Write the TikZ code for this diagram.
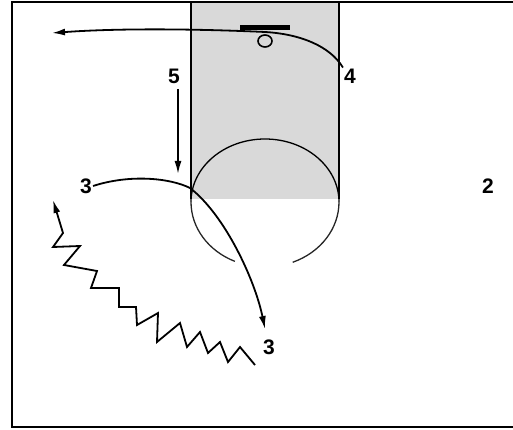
\documentclass[tikz,border=0pt]{standalone}
\usepackage{fontspec}
\setmainfont{Liberation Sans}
\usetikzlibrary{arrows.meta}
\begin{document}
\begin{tikzpicture}[x=1pt,y=-1pt,
  lbl/.style={font=\fontsize{21}{21}\selectfont\bfseries, inner sep=1pt},
  mv/.style={line width=1.8pt, -{Latex[length=13pt,width=7pt]}},
  court/.style={line width=1.8pt},
  circ/.style={line width=1.3pt}]
\useasboundingbox (0,0) rectangle (513,430);
% lane shading
\fill[gray!30] (191,2) rectangle (339,199);
% court border
\draw[court] (513,2) -- (12,2) -- (12,427) -- (513,427);
% lane lines
\draw[circ] (191,2) -- (191,199);
\draw[circ] (339,2) -- (339,199);
% free throw circle
\draw[circ] (191,202) arc[start angle=180, end angle=360, x radius=74, y radius=63];
\draw[circ, black!85] (339,202) arc[start angle=0, end angle=68, x radius=74, y radius=65];
\draw[circ, black!85] (191,202) arc[start angle=180, end angle=114, x radius=74, y radius=65];
% basket
\draw[line width=5pt] (240,28) -- (290,28);
\draw[line width=1.6pt] (265,41) ellipse[x radius=7, y radius=6];
% players
\node[lbl] (p4) at (350,76) {4};
\node[lbl] (p5) at (174,76) {5};
\node[lbl] (p3a) at (86,186) {3};
\node[lbl] (p3b) at (269,347) {3};
\node[lbl] (p2) at (488,186) {2};
% endpoints
\coordinate (e4) at (52,33);
\coordinate (s5) at (178,89);
\coordinate (e5) at (178,174);
\coordinate (e3) at (265,329);
\coordinate (z0) at (255,365);
\coordinate (ez) at (53,200);
% moves
\draw[mv] (p4.north west) .. controls (330,46) and (300,34) .. (265,32)
   .. controls (200,29) and (120,28) .. (e4);
\draw[mv] (s5) -- (e5);
\draw[mv] (p3a.east) .. controls (130,174) and (170,178) .. (190,188)
   .. controls (225,215) and (255,280) .. (e3);
\draw[line width=1.8pt, line join=miter, -{Latex[length=13pt,width=7pt]}]
  (z0) -- (240,347) -- (228,362) -- (220,342) -- (208,353) -- (200,332)
  -- (187,347) -- (180,323) -- (157,342) -- (158,313) -- (137,325)
  -- (136,307) -- (119,307) -- (119,288) -- (91,288) -- (97,271)
  -- (64,265) -- (80,246) -- (53,247) -- (63,233) -- (ez);
\end{tikzpicture}
\end{document}
